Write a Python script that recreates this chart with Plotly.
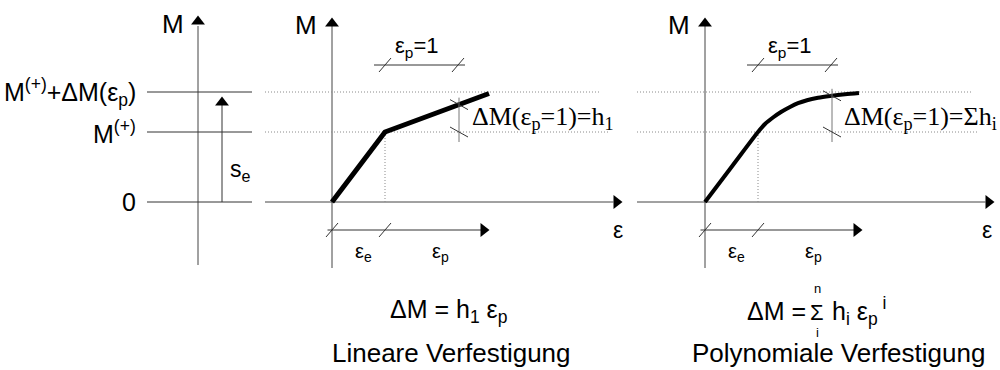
import plotly.graph_objects as go

# ---------------- data (diagram units: strain eps, moment M) ----------------
eps_e = 5.3            # elastic strain at first yield
eps_p_one = 7.3        # length representing eps_p = 1
M_plus = 7.0           # M(+)
M_top = 11.0           # M(+) + dM(eps_p)
se_top = 9.95          # head of s_e arrow

lin_eps = [0.0, 5.3, 15.7]
lin_M = [0.0, 7.0, 10.85]

poly_eps = [0.0, 2.65, 5.3, 6.0, 6.8, 7.6, 8.5, 9.3, 10.2, 11.3, 12.5, 14.0, 15.4]
poly_M = [0.0, 3.5, 7.0, 7.8, 8.45, 9.0, 9.5, 9.88, 10.18, 10.42, 10.6, 10.78, 10.9]

left_levels = [0.0, M_plus, M_top]
left_labels = ["0", "M<sup>(+)</sup>", "M<sup>(+)</sup>+ΔM(ε<sub>p</sub>)"]

titles = ["Lineare Verfestigung", "Polynomiale Verfestigung"]
formula_lin = "ΔM = h<sub>1</sub> ε<sub>p</sub>"
formula_poly = ["ΔM =", "Σ", "h<sub>i</sub> ε<sub>p</sub><sup> i</sup>"]
sum_limits = ["n", "i"]
dm_labels = ["ΔM(ε<sub>p</sub>=1)=h<sub>1</sub>", "ΔM(ε<sub>p</sub>=1)=Σh<sub>i</sub>"]

# ---------------- layout constants ----------------
W, H = 1000, 370
UNIT = 10.0                      # px per diagram unit
ORIG_Y = 202                     # pixel row of M = 0
ORIG_X = {"x": 198, "x2": 332, "x3": 705}

SANS = "Liberation Sans, Arial, sans-serif"
SERIF = "Liberation Serif, Times New Roman, serif"
AX_COL = "#444444"
DOT_COL = "#8a8a8a"

fig = go.Figure()


def seg(xs, ys, xa, color=AX_COL, width=1.0, dash=None, shape="linear"):
    fig.add_trace(go.Scatter(x=xs, y=ys, xaxis=xa, yaxis="y", mode="lines",
                             line=dict(color=color, width=width, dash=dash, shape=shape),
                             hoverinfo="skip", showlegend=False))


def head(x, y, xa, symbol):
    fig.add_trace(go.Scatter(x=[x], y=[y], xaxis=xa, yaxis="y", mode="markers",
                             marker=dict(symbol=symbol, size=12, color="black",
                                         line=dict(width=0)),
                             hoverinfo="skip", showlegend=False))


def slash(x, y, xa):
    seg([x - 0.6, x + 0.6], [y - 0.7, y + 0.7], xa, color="#333333")


def backslash(x, y, xa):
    seg([x - 0.9, x + 0.9], [y + 0.5, y - 0.5], xa, color="#333333")


def text(x, y, xa, s, size, family=SANS, anchor="center"):
    fig.add_annotation(x=x, y=y, xref=xa, yref="y", text=s, showarrow=False,
                       xanchor=anchor, yanchor="middle",
                       font=dict(family=family, size=size, color="black"))


def ptext(px, py, s, size, anchor="left"):
    fig.add_annotation(x=px / W, y=1 - py / H, xref="paper", yref="paper", text=s,
                       showarrow=False, xanchor=anchor, yanchor="middle",
                       font=dict(family=SANS, size=size, color="black"))


# ---------------- panel 1: load levels ----------------
seg([0, 0], [-6.3, 17.6], "x")
head(0, 18.05, "x", "triangle-up")
for lvl, lab in zip(left_levels, left_labels):
    seg([-5.1, 5.4], [lvl, lvl], "x", color="#333333")
    text(-6.0, lvl, "x", lab, 25, anchor="right")
seg([2.4, 2.4], [0, se_top], "x", color="#333333")
head(2.4, se_top, "x", "triangle-up")
text(4.2, 3.2, "x", "s<sub>e</sub>", 23)
text(-2.5, 17.8, "x", "M", 26)

# ---------------- panels 2 and 3 ----------------
panels = [
    dict(xa="x2", eps=lin_eps, M=lin_M, width=5, shape="linear",
         h_left=-6.7, h_tip=28.45, dot_top=26.8, dot_mid=27.6, eps_lab=28.6,
         dim_x=12.7, dim_lab=dm_labels[0], dim_lab_x=13.8,
         curve_at_dim=7.0 + (12.7 - 5.3) * (10.85 - 7.0) / (15.7 - 5.3)),
    dict(xa="x3", eps=poly_eps, M=poly_M, width=4, shape="spline",
         h_left=-6.8, h_tip=28.35, dot_top=26.7, dot_mid=27.2, eps_lab=28.2,
         dim_x=12.7, dim_lab=dm_labels[1], dim_lab_x=13.7,
         curve_at_dim=10.62),
]

for p in panels:
    xa = p["xa"]
    # axes
    seg([0, 0], [-6.6, 17.6], xa)
    head(0, 17.85, xa, "triangle-up")
    seg([p["h_left"], p["h_tip"] - 0.3], [0, 0], xa)
    head(p["h_tip"], 0, xa, "triangle-right")
    text(-2.6, 17.7, xa, "M", 26)
    text(p["eps_lab"], -2.8, xa, "ε", 23)
    # dotted guide lines
    seg([p["h_left"], p["dot_top"]], [M_top, M_top], xa, color=DOT_COL, dash="1px,2px")
    seg([p["h_left"], p["dot_mid"]], [M_plus, M_plus], xa, color=DOT_COL, dash="1px,2px")
    seg([eps_e, eps_e], [0, M_plus], xa, color=DOT_COL, dash="1px,2px")
    # curve
    fig.add_trace(go.Scatter(x=p["eps"], y=p["M"], xaxis=xa, yaxis="y", mode="lines",
                             line=dict(color="black", width=p["width"], shape=p["shape"],
                                       smoothing=0.8),
                             hoverinfo="skip", showlegend=False))
    # eps_p = 1 dimension
    seg([eps_e - 1.1, eps_e + eps_p_one + 0.7], [13.7, 13.7], xa, color="#333333")
    slash(eps_e, 13.7, xa)
    slash(eps_e + eps_p_one, 13.7, xa)
    text(eps_e + eps_p_one / 2 - 0.5, 15.5, xa, "ε<sub>p</sub>=1", 22)
    # dM dimension
    seg([p["dim_x"], p["dim_x"]], [p["curve_at_dim"] + 0.7, M_plus - 1.0], xa, color="#777777")
    backslash(p["dim_x"], p["curve_at_dim"], xa)
    backslash(p["dim_x"], M_plus, xa)
    text(p["dim_lab_x"], 8.4, xa, p["dim_lab"], 26, family=SERIF, anchor="left")
    # eps_e / eps_p dimension below the axis
    seg([-0.45, 15.0], [-2.8, -2.8], xa, color="#333333")
    head(15.15, -2.8, xa, "triangle-right")
    slash(0, -2.8, xa)
    slash(eps_e, -2.8, xa)
    text(3.1, -5.0, xa, "ε<sub>e</sub>", 20)
    text(10.8, -5.0, xa, "ε<sub>p</sub>", 20)

# formulas and titles
ptext(388, 311, formula_lin, 25)
ptext(745, 311, formula_poly[0], 25)
ptext(817, 312, formula_poly[1], 22, anchor="center")
ptext(830, 311, formula_poly[2], 25)
ptext(817, 288, sum_limits[0], 13, anchor="center")
ptext(817, 332, sum_limits[1], 13, anchor="center")
ptext(330, 353, titles[0], 26)
ptext(690, 353, titles[1], 26)


def xrange_for(key):
    o = ORIG_X[key]
    return [-o / UNIT, (W - o) / UNIT]


hidden = dict(visible=False, showgrid=False, zeroline=False, fixedrange=True)
fig.update_layout(
    width=W, height=H, autosize=False,
    margin=dict(l=0, r=0, t=0, b=0, pad=0),
    paper_bgcolor="white", plot_bgcolor="white",
    xaxis=dict(range=xrange_for("x"), domain=[0, 1], anchor="y", **hidden),
    xaxis2=dict(range=xrange_for("x2"), domain=[0, 1], anchor="y", overlaying="x", **hidden),
    xaxis3=dict(range=xrange_for("x3"), domain=[0, 1], anchor="y", overlaying="x", **hidden),
    yaxis=dict(range=[(ORIG_Y - H) / UNIT, ORIG_Y / UNIT], domain=[0, 1], **hidden),
    showlegend=False,
)

fig.write_html("out.html")
